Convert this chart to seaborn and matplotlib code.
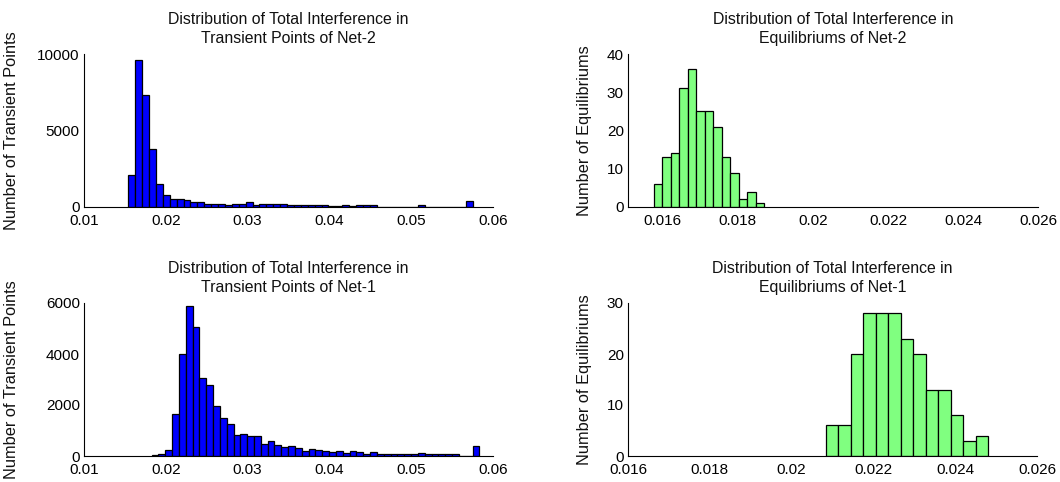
import numpy as np
import pandas as pd
import matplotlib
matplotlib.use("Agg")
import matplotlib.pyplot as plt
import seaborn as sns

# ---- data ----
tl_counts = [2080, 9580, 7300, 3790, 1530, 790, 530, 530, 460, 310,
             310, 200, 200, 200, 130, 200, 200, 310, 150, 200,
             200, 200, 200, 130, 130, 130, 130, 130, 130, 70,
             70, 130, 50, 120, 120, 120, 20, 20, 20, 20,
             20, 20, 110, 20, 20, 20, 20, 20, 20, 370]
tl_range = [0.01542, 0.05760]

bl_counts = [40, 60, 235, 1650, 3990, 5880, 5050, 3070, 2800, 1950,
             1500, 1260, 820, 880, 770, 770, 480, 580, 430, 350,
             390, 330, 210, 290, 235, 210, 145, 185, 105, 185,
             145, 80, 145, 80, 80, 80, 80, 80, 80, 130,
             80, 80, 80, 80, 80, 15, 15, 390]
bl_range = [0.01826, 0.05833]

tr_counts = [6, 13, 14, 31, 36, 25, 25, 21, 13, 9, 2, 4, 1]
tr_range = [0.01576, 0.01870]

br_counts = [6, 6, 20, 28, 28, 28, 23, 20, 13, 13, 8, 3, 4]
br_range = [0.02084, 0.02481]

titles = ["Distribution of Total Interference in\nTransient Points of Net-2",
          "Distribution of Total Interference in\nEquilibriums of Net-2",
          "Distribution of Total Interference in\nTransient Points of Net-1",
          "Distribution of Total Interference in\nEquilibriums of Net-1"]
ylabels = ["Number of Transient Points", "Number of Equilibriums",
           "Number of Transient Points", "Number of Equilibriums"]

left_xticks = [0.01, 0.02, 0.03, 0.04, 0.05, 0.06]
right_xticks = [0.016, 0.018, 0.02, 0.022, 0.024, 0.026]
tl_yticks = [0, 5000, 10000]
bl_yticks = [0, 2000, 4000, 6000]
tr_yticks = [0, 10, 20, 30, 40]
br_yticks = [0, 10, 20, 30]

BLUE = "#0000ff"
GREEN = "#80ff80"

sns.set_style("white")
plt.rcParams["font.family"] = ["Liberation Sans", "DejaVu Sans"]

fig = plt.figure(figsize=(10.6, 4.82), dpi=100)
W, H = 1060, 482

def make_ax(x0, x1, ytop, ybot):
    return fig.add_axes([x0 / W, 1 - ybot / H, (x1 - x0) / W, (ybot - ytop) / H])

ax_tl = make_ax(84, 493, 54, 207)
ax_tr = make_ax(628, 1038, 54, 207)
ax_bl = make_ax(84, 493, 303, 456)
ax_br = make_ax(628, 1037, 303, 456)

panels = [
    (ax_tl, tl_counts, tl_range, BLUE, (0.01, 0.06), left_xticks, tl_yticks, -0.158),
    (ax_tr, tr_counts, tr_range, GREEN, (0.01507, 0.026), right_xticks, tr_yticks, -0.087),
    (ax_bl, bl_counts, bl_range, BLUE, (0.01, 0.06), left_xticks, bl_yticks, -0.158),
    (ax_br, br_counts, br_range, GREEN, (0.016, 0.026), right_xticks, br_yticks, -0.087),
]

for i, (ax, counts, rng, col, xlim, xticks, yticks, ylx) in enumerate(panels):
    n = len(counts)
    edges = np.linspace(rng[0], rng[1], n + 1)
    centers = (edges[:-1] + edges[1:]) / 2
    df = pd.DataFrame({"x": centers, "w": np.asarray(counts, dtype=float)})
    sns.histplot(data=df, x="x", weights="w", bins=n, binrange=(rng[0], rng[1]),
                 ax=ax, color=col, edgecolor="black", linewidth=0.9, alpha=1.0)
    ax.set_xlim(*xlim)
    ax.set_ylim(yticks[0], yticks[-1])
    ax.set_xticks(xticks)
    ax.set_xticklabels(["%g" % t for t in xticks])
    ax.set_yticks(yticks)
    ax.set_yticklabels(["%g" % t for t in yticks])
    ax.tick_params(direction="in", length=4, width=0.8, labelsize=11,
                   colors="black")
    ax.tick_params(axis="x", pad=5)
    ax.tick_params(axis="y", pad=3)
    for s in ["top", "right"]:
        ax.spines[s].set_visible(False)
    for s in ["left", "bottom"]:
        ax.spines[s].set_color("black")
        ax.spines[s].set_linewidth(0.8)
    ax.set_title(titles[i], fontsize=11.4, pad=8, linespacing=1.3, color="#111111")
    ax.set_ylabel(ylabels[i], fontsize=11.8, color="#111111")
    ax.yaxis.set_label_coords(ylx, 0.5)
    ax.set_xlabel("")

fig.savefig("out.png", dpi=100, facecolor="white")
